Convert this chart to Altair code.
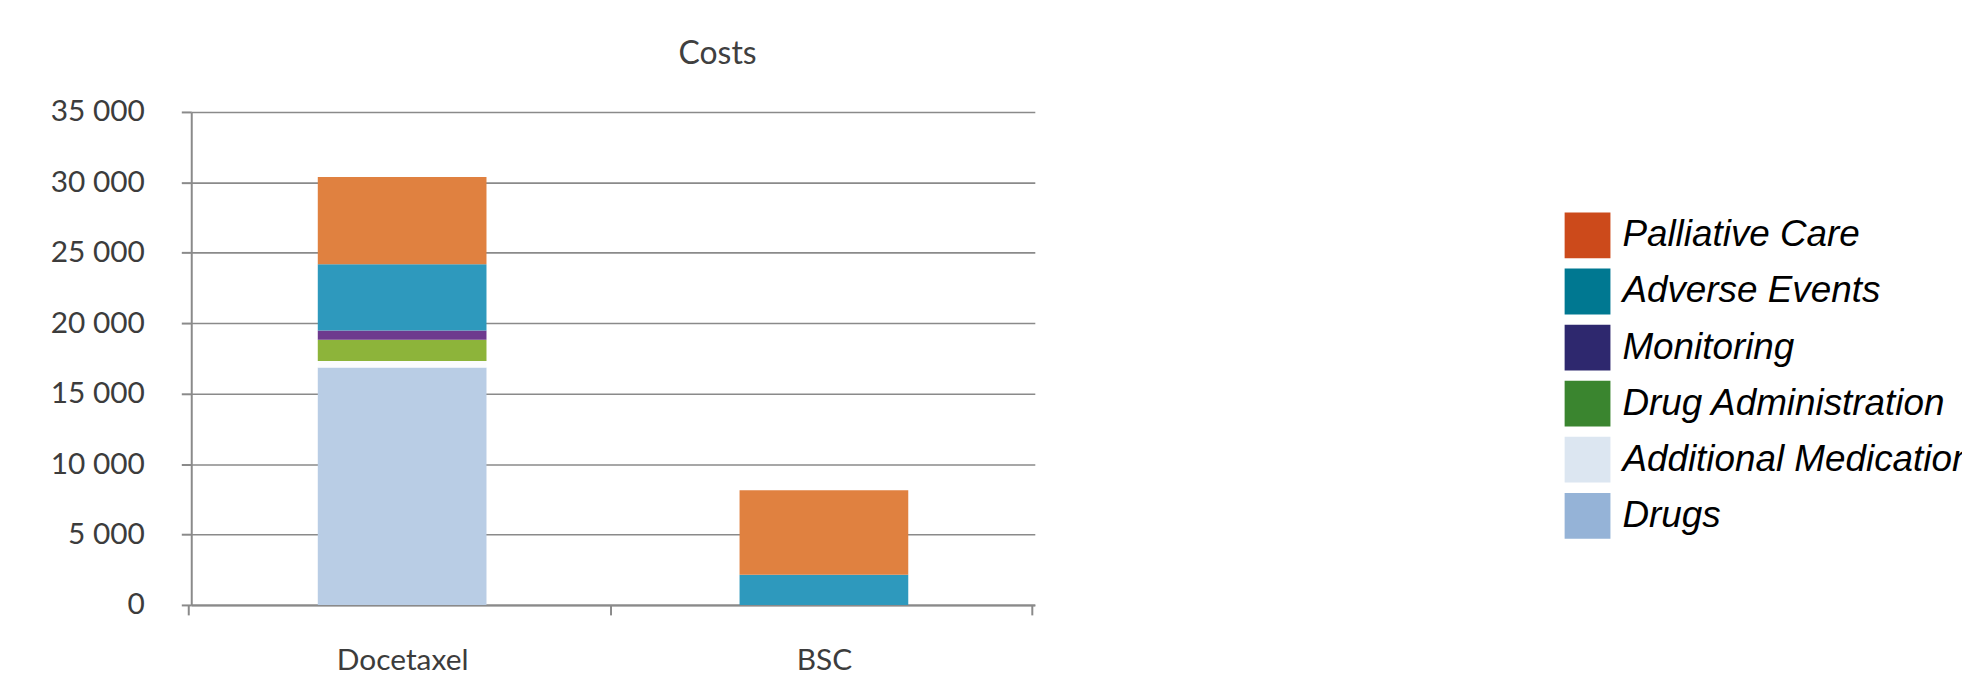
import altair as alt
import pandas as pd

# ---- data ----
groups = ["Docetaxel", "BSC"]
categories = ["Drugs", "Additional Medication", "Drug Administration",
              "Monitoring", "Adverse Events", "Palliative Care"]
docetaxel_values = [16850, 470, 1500, 660, 4700, 6200]
bsc_values = [0, 0, 0, 0, 2150, 6000]
bar_colors = ["#B9CDE5", "#FBFCFE", "#8DB43A", "#6E3A8E", "#2E99BD", "#E08140"]
legend_order = ["Palliative Care", "Adverse Events", "Monitoring",
                "Drug Administration", "Additional Medication", "Drugs"]
legend_colors = ["#CC4A1B", "#007891", "#2E286E", "#3A852F", "#DCE6F1", "#95B3D7"]
y_ticks = [0, 5000, 10000, 15000, 20000, 25000, 30000, 35000]

rows = []
for g, vals in zip(groups, [docetaxel_values, bsc_values]):
    for rank, (c, v) in enumerate(zip(categories, vals)):
        rows.append({"Group": g, "Category": c, "Value": v, "Rank": rank})
df = pd.DataFrame(rows)

GRAY = "#8a8a8a"
TXT = "#3c3c3c"

x_enc = alt.X(
    "Group:N", sort=groups,
    scale=alt.Scale(paddingInner=0.6, paddingOuter=0.3),
    axis=alt.Axis(title=None, labelAngle=0, labelFont="Lato", labelFontSize=30,
                  labelColor=TXT, labelPadding=31, tickSize=10,
                  bandPosition=2.5, tickOffset=-130, tickExtra=True, labelOffset=130,
                  domainColor=GRAY, tickColor=GRAY, domainWidth=2, tickWidth=2,
                  grid=False),
)
y_enc = alt.Y(
    "Value:Q", stack="zero",
    scale=alt.Scale(domain=[0, 35000], nice=False),
    axis=alt.Axis(title=None, values=y_ticks,
                  labelExpr="replace(format(datum.value, ','), ',', ' ')",
                  labelFont="Lato", labelFontSize=30, labelColor=TXT,
                  labelPadding=37, tickSize=10, tickColor=GRAY, tickWidth=2,
                  domainColor=GRAY, domainWidth=2,
                  gridColor=GRAY, gridWidth=1.6),
)
order_enc = alt.Order("Rank:Q", sort="ascending")

bars = alt.Chart(df).mark_bar().encode(
    x=x_enc, y=y_enc, order=order_enc,
    color=alt.Color("Category:N", scale=alt.Scale(domain=categories, range=bar_colors),
                    legend=None),
)

legend_layer = alt.Chart(df).mark_bar(opacity=0).encode(
    x=x_enc, y=y_enc, order=order_enc,
    fill=alt.Fill("Category:N",
                  scale=alt.Scale(domain=legend_order, range=legend_colors),
                  legend=alt.Legend(title=None, orient="none", legendX=1379, legendY=101,
                                    symbolType="square", symbolSize=2116,
                                    symbolStrokeWidth=0, symbolOpacity=1,
                                    labelFont="Liberation Sans", labelFontSize=37,
                                    labelFontStyle="italic", labelColor="black",
                                    labelOffset=12, labelLimit=2000, rowPadding=10.3,
                                    padding=0, offset=0)),
)

chart = alt.layer(bars, legend_layer).properties(
    width=847, height=495,
    padding={"left": 184, "top": 103, "right": 931, "bottom": 70},
    autosize=alt.AutoSizeParams(type="none"),
    title=alt.Title("Costs", font="Lato", fontSize=32, fontWeight="normal",
                    color="#404040", dx=105, offset=1, baseline="alphabetic"),
).configure_view(stroke=None)

chart.save("out.html", embed_options={"renderer": "svg", "actions": False})
